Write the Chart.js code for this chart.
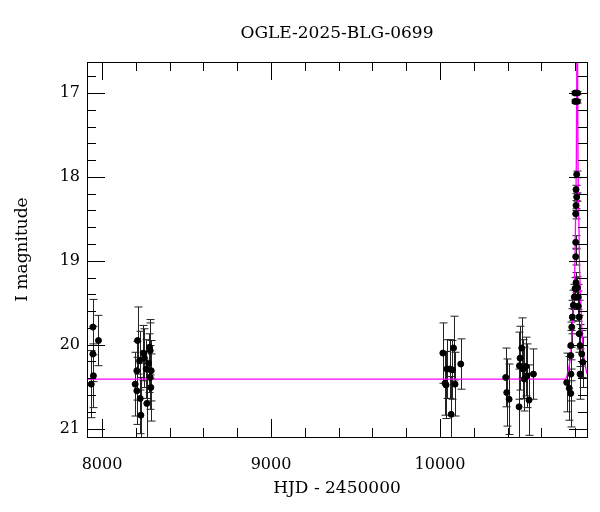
<!DOCTYPE html>
<html>
<head>
<meta charset="utf-8">
<script src="https://cdn.jsdelivr.net/npm/chart.js@4.4.1/dist/chart.umd.min.js"></script>
<style>
  body { margin: 0; background: #fff; }
  #wrap { width: 600px; height: 512px; }
</style>
</head>
<body>
<div id="wrap"><canvas id="lc" width="600" height="512"></canvas></div>
<script>
// OGLE photometry (HJD - 2450000, I mag, 1-sigma error)
const obsHjd = [
  7946, 7979, 7946, 7949, 7936,
  8210, 8222, 8206, 8196, 8206, 8226, 8230, 8245, 8251, 8261, 8265, 8275, 8281, 8285, 8285, 8289, 8291,
  10017, 10080, 10123, 10041, 10057, 10073, 10030, 10036, 10089, 10066,
  10389, 10395, 10409, 10468, 10470, 10474, 10484, 10493, 10499, 10508, 10514, 10527, 10553,
  10799, 10813, 10799, 10813, 10809, 10805, 10809, 10805, 10803, 10803, 10803, 10805, 10799, 10813,
  10795, 10818, 10789, 10818, 10783, 10824, 10780, 10824, 10774, 10829, 10839, 10774, 10845, 10775,
  10750, 10829, 10774, 10765
];
const obsMag = [
  19.79, 19.95, 20.11, 20.37, 20.47,
  19.95, 20.19, 20.31, 20.47, 20.55, 20.64, 20.84, 20.10, 20.16, 20.29, 20.70, 20.22, 20.03, 20.07, 20.39, 20.51, 20.31,
  20.10, 20.04, 20.23, 20.29, 20.29, 20.30, 20.46, 20.48, 20.47, 20.83,
  20.39, 20.57, 20.65, 20.74, 20.25, 20.16, 20.04, 20.29, 20.41, 20.26, 20.37, 20.66, 20.35,
  17.00, 17.00, 17.10, 17.10, 17.97, 18.15, 18.24, 18.34, 18.44, 18.78, 18.95, 19.26, 19.33, 19.32,
  19.43, 19.43, 19.53, 19.54, 19.67, 19.67, 19.79, 19.87, 20.01, 20.01, 20.11, 20.13, 20.21, 20.35,
  20.45, 20.35, 20.58, 20.52
];
const obsErr = [
  0.33, 0.30, 0.33, 0.38, 0.40,
  0.40, 0.35, 0.35, 0.38, 0.40, 0.42, 0.45, 0.33, 0.35, 0.35, 0.42, 0.35, 0.33, 0.33, 0.38, 0.40, 0.36,
  0.36, 0.38, 0.30, 0.35, 0.35, 0.35, 0.38, 0.40, 0.38, 0.45,
  0.35, 0.40, 0.42, 0.45, 0.40, 0.38, 0.36, 0.35, 0.38, 0.35, 0.38, 0.42, 0.30,
  0.02, 0.02, 0.02, 0.02, 0.04, 0.05, 0.05, 0.06, 0.06, 0.08, 0.10, 0.12, 0.13, 0.13,
  0.15, 0.15, 0.18, 0.18, 0.20, 0.20, 0.22, 0.22, 0.28, 0.25, 0.28, 0.30, 0.30, 0.32,
  0.35, 0.30, 0.40, 0.38
];

// model light curve
const modelHjd = [7911, 10740, 10760, 10774, 10783, 10793, 10799, 10803, 10807, 10809, 10812,
                  10815, 10817, 10821, 10825, 10831, 10839, 10849, 10863, 10870];
const modelMag = [20.41, 20.41, 20.30, 20.10, 19.79, 19.38, 18.99, 18.39, 17.79, 17.00, 15.50,
                  17.00, 17.79, 18.39, 18.99, 19.38, 19.79, 20.10, 20.28, 20.35];

// axis ticks
const xMajorTicks = [8000, 9000, 10000];
const xMinorTicks = [8000, 8200, 8400, 8600, 8800, 9000, 9200, 9400, 9600, 9800,
                     10000, 10200, 10400, 10600, 10800];
const yMajorTicks = [17, 18, 19, 20, 21];
const yMinorTicks = [16.8, 17, 17.2, 17.4, 17.6, 17.8, 18, 18.2, 18.4, 18.6, 18.8, 19,
                     19.2, 19.4, 19.6, 19.8, 20, 20.2, 20.4, 20.6, 20.8, 21];

const serif = "'DejaVu Serif', 'Liberation Serif', serif";

// vertical error bars with small caps, under the points
const errorBars = {
  id: "errorBars",
  beforeDatasetsDraw(chart) {
    const ctx = chart.ctx;
    const xs = chart.scales.x;
    const ys = chart.scales.y;
    const a = chart.chartArea;
    ctx.save();
    ctx.beginPath();
    ctx.rect(a.left, a.top, a.right - a.left, a.bottom - a.top);
    ctx.clip();
    ctx.strokeStyle = "#222";
    ctx.lineWidth = 1;
    obsHjd.forEach((t, i) => {
      const px = Math.round(xs.getPixelForValue(t)) + 0.5;
      const top = ys.getPixelForValue(obsMag[i] - obsErr[i]);
      const bot = ys.getPixelForValue(obsMag[i] + obsErr[i]);
      ctx.beginPath();
      ctx.moveTo(px, top);
      ctx.lineTo(px, bot);
      ctx.moveTo(px - 4, top);
      ctx.lineTo(px + 4, top);
      ctx.moveTo(px - 4, bot);
      ctx.lineTo(px + 4, bot);
      ctx.stroke();
    });
    ctx.restore();
  },
};

// frame, inward ticks on all four sides, and the title
const frame = {
  id: "frame",
  afterDraw(chart) {
    const ctx = chart.ctx;
    const xs = chart.scales.x;
    const ys = chart.scales.y;
    const a = chart.chartArea;
    ctx.save();
    ctx.strokeStyle = "#000";
    ctx.lineWidth = 1;
    ctx.strokeRect(Math.round(a.left) + 0.5, Math.round(a.top) + 0.5,
                   Math.round(a.right - a.left), Math.round(a.bottom - a.top));
    ctx.beginPath();
    xMinorTicks.forEach((v) => {
      const len = xMajorTicks.includes(v) ? 18 : 9;
      const px = Math.round(xs.getPixelForValue(v)) + 0.5;
      ctx.moveTo(px, a.bottom);
      ctx.lineTo(px, a.bottom - len);
      ctx.moveTo(px, a.top);
      ctx.lineTo(px, a.top + len);
    });
    yMinorTicks.forEach((v) => {
      const len = yMajorTicks.includes(v) ? 18 : 9;
      const py = Math.round(ys.getPixelForValue(v)) + 0.5;
      ctx.moveTo(a.left, py);
      ctx.lineTo(a.left + len, py);
      ctx.moveTo(a.right, py);
      ctx.lineTo(a.right - len, py);
    });
    ctx.stroke();
    ctx.fillStyle = "#000";
    ctx.font = "17px " + serif;
    ctx.textAlign = "center";
    ctx.textBaseline = "middle";
    ctx.fillText("OGLE-2025-BLG-0699", (a.left + a.right) / 2, 34);
    ctx.restore();
  },
};

new Chart(document.getElementById("lc"), {
  data: {
    datasets: [
      {
        type: "line",
        label: "model",
        data: modelHjd.map((t, i) => ({ x: t, y: modelMag[i] })),
        borderColor: "#ff00ff",
        borderWidth: 1.3,
        pointRadius: 0,
        cubicInterpolationMode: "monotone",
        order: 2,
      },
      {
        type: "scatter",
        label: "OGLE",
        data: obsHjd.map((t, i) => ({ x: t, y: obsMag[i] })),
        backgroundColor: "#000",
        borderColor: "#000",
        pointRadius: 3,
        order: 1,
      },
    ],
  },
  options: {
    responsive: false,
    animation: false,
    devicePixelRatio: 1,
    layout: { padding: { top: 62, right: 13, bottom: 0, left: 0 } },
    plugins: { legend: { display: false }, tooltip: { enabled: false }, title: { display: false } },
    scales: {
      x: {
        type: "linear",
        min: 7911,
        max: 10870,
        grid: { display: false },
        border: { display: false },
        afterBuildTicks: (axis) => { axis.ticks = xMajorTicks.map((v) => ({ value: v })); },
        afterFit: (axis) => { axis.height = 75; },
        ticks: { color: "#000", font: { family: serif, size: 16 }, padding: 10, maxRotation: 0,
                 callback: (v) => String(v) },
        title: { display: true, text: "HJD - 2450000", color: "#000",
                 font: { family: serif, size: 17 }, padding: { top: 0, bottom: 13 } },
      },
      y: {
        type: "linear",
        reverse: true,
        min: 16.63,
        max: 21.1,
        grid: { display: false, drawTicks: false },
        border: { display: false },
        afterBuildTicks: (axis) => { axis.ticks = yMajorTicks.map((v) => ({ value: v })); },
        afterFit: (axis) => { axis.width = 87; },
        ticks: { color: "#000", font: { family: serif, size: 16 }, padding: 7,
                 callback: (v) => String(v) },
        title: { display: true, text: "I magnitude", color: "#000",
                 font: { family: serif, size: 17 }, padding: { top: 12, bottom: 0 } },
      },
    },
  },
  plugins: [errorBars, frame],
});
</script>
</body>
</html>
